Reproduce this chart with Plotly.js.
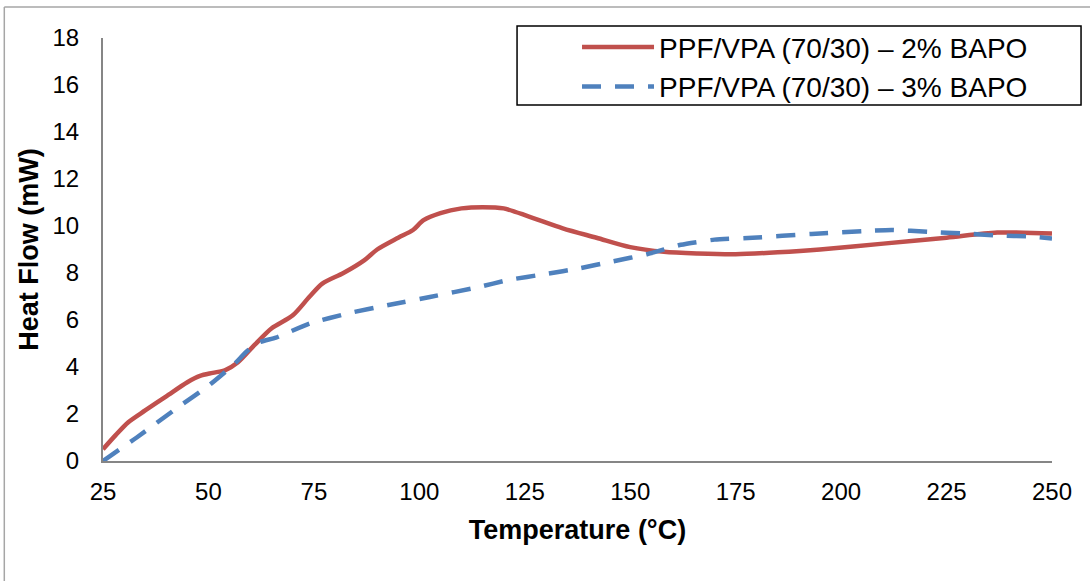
<!DOCTYPE html>
<html>
<head>
<meta charset="utf-8">
<script src="https://cdn.plot.ly/plotly-3.0.1.min.js"></script>
<style>html,body{margin:0;padding:0;background:#fff;}#chart{width:1090px;height:581px;}</style>
</head>
<body>
<div id="chart"></div>
<script>
const seriesNames = ["PPF/VPA (70/30) \u2013 2% BAPO", "PPF/VPA (70/30) \u2013 3% BAPO"];
const tempA = [25, 28, 31, 35, 40, 45, 48, 51, 54, 57, 61, 65, 70, 74, 77, 82, 87, 90, 95, 98.5, 101, 105, 110, 115, 120, 126, 134, 142, 150, 158, 166, 175, 185, 195, 210, 225, 237, 250];
const heatA = [0.5, 1.1, 1.65, 2.15, 2.75, 3.35, 3.62, 3.75, 3.87, 4.2, 4.95, 5.65, 6.2, 7.0, 7.55, 8.0, 8.55, 9.0, 9.5, 9.83, 10.25, 10.55, 10.75, 10.8, 10.75, 10.4, 9.9, 9.5, 9.1, 8.9, 8.83, 8.8, 8.88, 9.0, 9.25, 9.5, 9.72, 9.68];
const tempB = [25, 33, 42.5, 50, 56, 59, 62, 66, 74, 83.5, 93, 102.5, 114, 121, 130, 138, 146, 154, 162, 170, 179, 193, 205, 212, 221, 229, 237, 245, 250];
const heatB = [0, 1.0, 2.25, 3.2, 4.1, 4.65, 5.05, 5.25, 5.85, 6.3, 6.65, 6.98, 7.4, 7.7, 7.96, 8.2, 8.5, 8.8, 9.2, 9.42, 9.5, 9.66, 9.78, 9.83, 9.75, 9.68, 9.6, 9.55, 9.47];
const xTicks = [25, 50, 75, 100, 125, 150, 175, 200, 225, 250];
const yTicks = [0, 2, 4, 6, 8, 10, 12, 14, 16, 18];

const font = "Liberation Sans, Arial, sans-serif";
const traces = [
  {x: tempA, y: heatA, name: seriesNames[0], legendgroup: "a", mode: "lines", type: "scatter",
   line: {color: "#C0504D", width: 4.5, shape: "spline", smoothing: 0.8}},
  {x: tempB, y: heatB, name: seriesNames[1], legendgroup: "b", mode: "lines", type: "scatter",
   line: {color: "#4F81BD", width: 4.5, dash: "19px,14px", shape: "spline", smoothing: 0.5}}
];
const layout = {
  width: 1090, height: 581,
  margin: {l: 103, r: 38, t: 38, b: 120},
  paper_bgcolor: "#fff", plot_bgcolor: "#fff",
  font: {family: font, size: 24, color: "#000"},
  showlegend: true,
  legend: {x: 0.4995, y: 1.037, xanchor: "left", yanchor: "top",
    bordercolor: "rgba(0,0,0,0)", borderwidth: 0, bgcolor: "rgba(0,0,0,0)",
    font: {family: font, size: 28, color: "#000"}, itemwidth: 72, tracegroupgap: 0, traceorder: "grouped"},
  xaxis: {range: [25, 250], tickvals: xTicks, ticktext: xTicks.map(String),
    showgrid: false, zeroline: false, showline: true, linecolor: "#868686", linewidth: 2,
    ticks: "", ticklen: 0, ticklabelstandoff: 8, tickfont: {family: font, size: 24},
    title: {text: "<b>Temperature (°C)</b>", font: {family: font, size: 27}, standoff: 16}},
  yaxis: {range: [0, 18], tickvals: yTicks, ticktext: yTicks.map(String),
    showgrid: false, zeroline: false, showline: true, linecolor: "#868686", linewidth: 2,
    ticks: "", ticklen: 0, ticklabelstandoff: 17, tickfont: {family: font, size: 24},
    title: {text: "<b>Heat Flow (mW)</b>", font: {family: font, size: 27}, standoff: 6}},
  shapes: [
    {type: "line", xref: "paper", yref: "paper", x0: -0.104, x1: 1.1, y0: 1.073, y1: 1.073, line: {color: "#A6A6A6", width: 1.5}},
    {type: "line", xref: "paper", yref: "paper", x0: -0.104, x1: -0.104, y0: 1.073, y1: -0.3, line: {color: "#A6A6A6", width: 1.5}},
    {type: "rect", xref: "paper", yref: "paper", x0: 0.4363, x1: 1.0306, y0: 0.8416, y1: 1.0284, line: {color: "#000", width: 1.5}, fillcolor: "rgba(0,0,0,0)", layer: "above"}
  ]
};
Plotly.newPlot("chart", traces, layout, {displayModeBar: false, staticPlot: true});
</script>
</body>
</html>
